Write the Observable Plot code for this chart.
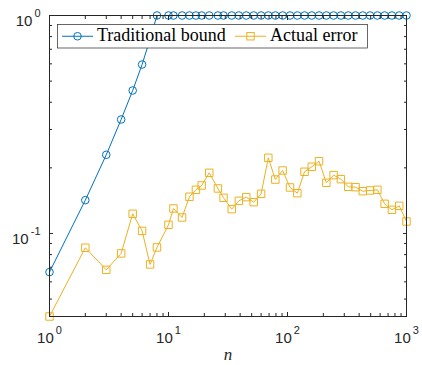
<!DOCTYPE html>
<html><head><meta charset="utf-8">
<script src="https://cdn.jsdelivr.net/npm/d3@7"></script>
<script src="https://cdn.jsdelivr.net/npm/@observablehq/plot@0.6"></script>
<style>html,body{margin:0;padding:0;background:#fff;} svg{display:block;}</style>
</head><body><div id="chart"></div>
<script>
// ---- data ----
const n = [1,2,3,4,5,6,7,8,10,11,13,15,17,19,22,26,29,34,39,45,52,60,69,79,91,105,121,139,160,184,212,244,281,324,373,429,494,569,655,754,869,1000];
const traditionalBound = [0.0665,0.1422,0.2296,0.3334,0.4528,0.5958,0.78,1,
  1,1,1,1,1,1,1,1,1,1,1,1,1,1,1,1,1,1,1,1,1,1,1,1,1,1,1,1,1,1,1,1,1,1];
const actualError = [0.0416,0.0860,0.0681,0.0810,0.1231,0.1028,0.0721,0.0863,
  0.1096,0.1302,0.1184,0.1474,0.1586,0.1661,0.1898,0.1609,0.1458,0.1293,0.1412,
  0.1468,0.1392,0.1520,0.2224,0.1768,0.1945,0.1626,0.1531,0.1919,0.2023,0.2146,
  0.1708,0.1852,0.1775,0.1637,0.1631,0.1563,0.1575,0.1586,0.1368,0.1284,0.1339,0.1135];
const seriesNames = ["Traditional bound", "Actual error"];
const xMajor = [1,10,100,1000];
const xTickLabels = ["10^0","10^1","10^2","10^3"];
const xMinor = [2,3,4,5,6,7,8,9,20,30,40,50,60,70,80,90,200,300,400,500,600,700,800,900];
const yMajor = [0.1,1];
const yTickLabels = ["10^-1","10^0"];
const yMinor = [0.05,0.06,0.07,0.08,0.09,0.2,0.3,0.4,0.5,0.6,0.7,0.8,0.9];
const xLabel = "n";

// ---- styles ----
const blue = "#0072BD", orange = "#EDB120", axisColor = "#262626";
const tickFont = "'Liberation Sans', Arial, Helvetica, sans-serif";
const serifFont = "'Liberation Serif', 'Times New Roman', serif";
const W = 422, H = 365, mL = 49, mR = 16, mT = 15, mB = 49;

const data = n.map((v, i) => ({n: v, bound: traditionalBound[i], err: actualError[i]}));
const yMin = d3.min(actualError);

function tickMarks(anchor, values, size) {
  const opts = {anchor, ticks: values, tickSize: size, tickFormat: () => "", label: null,
    stroke: axisColor, strokeWidth: 1};
  opts["inset" + anchor[0].toUpperCase() + anchor.slice(1)] = size;
  return (anchor === "top" || anchor === "bottom") ? Plot.axisX(opts) : Plot.axisY(opts);
}

const chart = Plot.plot({
  width: W, height: H,
  marginLeft: mL, marginRight: mR, marginTop: mT, marginBottom: mB,
  style: {background: "#fff", overflow: "visible"},
  x: {type: "log", domain: [1, 1000], label: null},
  y: {type: "log", domain: [yMin, 1], label: null},
  marks: [
    Plot.line(data, {x: "n", y: "bound", stroke: blue, strokeWidth: 1}),
    Plot.dot(data, {x: "n", y: "bound", r: 3.8, stroke: blue, strokeWidth: 1, fill: "none"}),
    Plot.line(data, {x: "n", y: "err", stroke: orange, strokeWidth: 1}),
    Plot.dot(data, {x: "n", y: "err", symbol: "square", r: 4.2, stroke: orange, strokeWidth: 1, fill: "none"}),
    Plot.frame({stroke: axisColor, strokeWidth: 1}),
    tickMarks("bottom", xMajor, 4), tickMarks("bottom", xMinor, 3),
    tickMarks("top", xMajor, 4), tickMarks("top", xMinor, 3),
    tickMarks("left", yMajor, 4), tickMarks("left", yMinor, 3),
    tickMarks("right", yMajor, 4), tickMarks("right", yMinor, 3),
    Plot.axisX({anchor: "bottom", ticks: xMajor, tickSize: 0, tickPadding: 16,
      tickFormat: d => xTickLabels[xMajor.indexOf(d)], fontSize: 15, fontFamily: tickFont,
      fill: axisColor, label: null}),
    Plot.axisY({anchor: "left", ticks: yMajor, tickSize: 0, tickPadding: 9, dy: 6,
      tickFormat: d => yTickLabels[yMajor.indexOf(d)], fontSize: 15, fontFamily: tickFont,
      fill: axisColor, label: null}),
    Plot.text([xLabel], {text: d => d, frameAnchor: "bottom", lineAnchor: "middle", dy: 38, fontSize: 17,
      fontStyle: "italic", fontFamily: serifFont, fill: axisColor})
  ]
});

// superscript exponents on tick labels
d3.select(chart).selectAll('g[aria-label="x-axis tick label"] text, g[aria-label="y-axis tick label"] text')
  .each(function() {
    const s = this.textContent;
    if (!s.includes("^")) return;
    const [b, e] = s.split("^");
    const t = d3.select(this);
    t.text(null);
    t.append("tspan").text(b);
    t.append("tspan").attr("dx", 2).attr("dy", -9).attr("font-size", 11).text(e);
  });

// legend (northwest, inside axes)
const lg = d3.select(chart).append("g").attr("font-family", serifFont).attr("font-size", 18)
  .attr("text-anchor", "start");
const lx = mL + 8.5, ly = mT + 9.5, lw = 310, lh = 23.5, cy = ly + lh / 2;
lg.append("rect").attr("x", lx).attr("y", ly).attr("width", lw).attr("height", lh)
  .attr("fill", "#fff").attr("stroke", axisColor).attr("stroke-width", 0.7);
const entries = [
  {name: seriesNames[0], color: blue, x0: lx + 4.5, sym: "circle"},
  {name: seriesNames[1], color: orange, x0: lx + 177.5, sym: "square"}
];
for (const e of entries) {
  lg.append("line").attr("x1", e.x0).attr("x2", e.x0 + 31).attr("y1", cy).attr("y2", cy)
    .attr("stroke", e.color).attr("stroke-width", 1);
  if (e.sym === "circle") {
    lg.append("circle").attr("cx", e.x0 + 15.5).attr("cy", cy).attr("r", 3.8)
      .attr("fill", "none").attr("stroke", e.color);
  } else {
    lg.append("rect").attr("x", e.x0 + 15.5 - 3.7).attr("y", cy - 3.7).attr("width", 7.4).attr("height", 7.4)
      .attr("fill", "none").attr("stroke", e.color);
  }
  lg.append("text").attr("x", e.x0 + 35).attr("y", cy + 5).attr("text-anchor", "start")
    .attr("fill", "#000").text(e.name);
}

document.getElementById("chart").appendChild(chart);
</script>
</body></html>
